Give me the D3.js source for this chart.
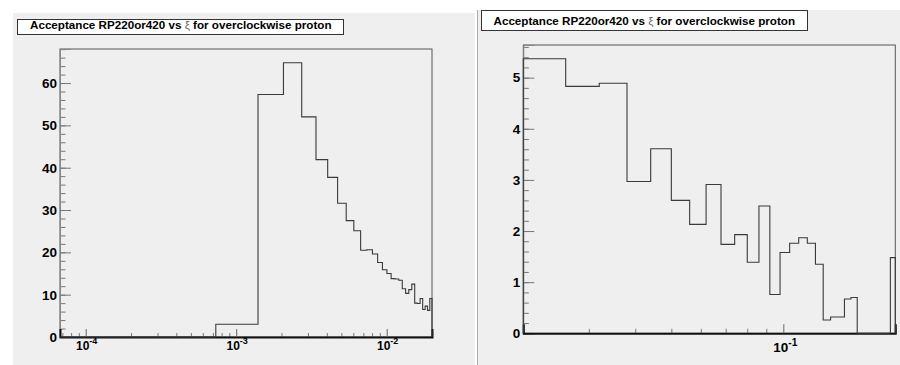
<!DOCTYPE html>
<html>
<head>
<meta charset="utf-8">
<script src="https://cdn.jsdelivr.net/npm/d3@7"></script>
<style>
  body { margin: 0; background: #fff; }
  svg { display: block; }
  text { font-family: "Liberation Sans", Arial, Helvetica, sans-serif; font-weight: bold; fill: #000; }
</style>
</head>
<body>
<svg width="900" height="365"></svg>
<script>
// histogram contents (30 uniform bins each)
const titleText = "Acceptance RP220or420 vs ";
const titleRest = " for overclockwise proton";

const leftRange = [6.75e-5, 0.02];
const leftValues = [0, 3.0, 57.3, 64.8, 52.0, 41.9, 37.7, 31.6, 27.5, 25.1,
                    20.5, 20.6, 19.6, 17.6, 15.9, 15.0, 13.8, 13.7, 13.4, 11.4,
                    10.3, 11.2, 12.5, 8.0, 7.9, 9.1, 6.5, 7.3, 6.3, 9.1];
const leftYTicks = [0, 10, 20, 30, 40, 50, 60];
const leftXMajor = [1e-4, 1e-3, 1e-2];
const leftXLabels = ["-4", "-3", "-2"];

const rightRange = [0.02, 0.2];
const rightValues = [5.37, 4.83, 4.89, 2.97, 3.61, 2.60, 2.13, 2.91, 1.74, 1.93,
                     1.39, 2.49, 0.76, 1.58, 1.76, 1.87, 1.76, 1.35, 0.26, 0.32,
                     0.32, 0.67, 0.70, 0, 0, 0, 0, 0, 0, 1.48];
const rightYTicks = [0, 1, 2, 3, 4, 5];
const rightXMajor = [0.1];
const rightXLabels = ["-1"];

const svg = d3.select("svg");

// pad backgrounds
svg.append("rect").attr("x", 13).attr("y", 13).attr("width", 462).attr("height", 352).attr("fill", "#efefef");
svg.append("rect").attr("x", 478).attr("y", 10).attr("width", 422).attr("height", 355).attr("fill", "#efefef");
svg.append("line").attr("x1", 477.5).attr("x2", 477.5).attr("y1", 10).attr("y2", 365)
    .attr("stroke", "#aaa").attr("stroke-width", 1);

function minorLogTicks(domain) {
    let t = [];
    for (let e = -6; e <= 0; e++) {
        for (let m = 2; m <= 9; m++) {
            let v = m * Math.pow(10, e);
            if (v >= domain[0] * 0.999 && v <= domain[1] * 1.001) t.push(v);
        }
    }
    return t;
}

function drawPanel(opt) {
    const g = svg.append("g").attr("transform", `translate(${opt.left},${opt.top})`);
    const w = opt.width, h = opt.height;

    const x = d3.scaleLog().domain(opt.range).range([0, w]);
    const ymax = d3.max(opt.values) * 1.05;
    const y = d3.scaleLinear().domain([0, ymax]).range([h, 0]);

    // frame
    g.append("rect").attr("width", w).attr("height", h)
        .attr("fill", "none").attr("stroke", "#555").attr("stroke-width", 1);

    // y axis: minor then major
    const yMinor = d3.range(0, ymax, opt.yMinorStep);
    g.append("g").call(d3.axisLeft(y).tickValues(yMinor).tickSize(-opt.yMinorLen).tickFormat(""))
        .call(a => a.select(".domain").remove())
        .selectAll("line").attr("stroke", "#777");
    g.append("g").call(d3.axisLeft(y).tickValues(opt.yTicks).tickSize(-opt.yMajorLen).tickPadding(3)
            .tickFormat(d3.format("d")))
        .call(a => a.select(".domain").attr("stroke", "#888"))
        .call(a => a.selectAll("line").attr("stroke", "#777"))
        .call(a => a.selectAll("text").attr("font-size", opt.yFont).attr("fill", "#000"));

    // x axis: minor and major ticks drawn upward
    g.append("g").attr("transform", `translate(0,${h})`)
        .call(d3.axisBottom(x).tickValues(minorLogTicks(opt.range)).tickSize(-opt.xMinorLen).tickFormat(""))
        .call(a => a.select(".domain").remove())
        .selectAll("line").attr("stroke", "#777");
    g.append("g").attr("transform", `translate(0,${h})`)
        .call(d3.axisBottom(x).tickValues(opt.xMajor).tickSize(-opt.xMajorLen).tickFormat(""))
        .call(a => a.select(".domain").attr("stroke", "#111").attr("stroke-width", 2))
        .selectAll("line").attr("stroke", "#666");

    // x labels 10^n
    const lab = g.append("g").selectAll("text").data(opt.xMajor).enter().append("text")
        .attr("x", d => x(d) + opt.xLabShift)
        .attr("y", h + opt.xLabDy)
        .attr("text-anchor", "middle")
        .attr("font-size", opt.xFont);
    lab.append("tspan").text("10");
    lab.append("tspan").attr("dy", -opt.xFont * 0.42).attr("font-size", opt.xFont * 0.75)
        .text((d, i) => opt.xLabels[i]);

    // histogram outline
    const n = opt.values.length;
    const bw = (opt.range[1] - opt.range[0]) / n;
    let pts = [[opt.range[0], 0]];
    opt.values.forEach((v, i) => pts.push([opt.range[0] + i * bw, v]));
    pts.push([opt.range[1], opt.values[n - 1]]);
    pts.push([opt.range[1], 0]);
    const line = d3.line().x(d => x(d[0])).y(d => y(d[1])).curve(d3.curveStepAfter);
    g.append("path").attr("d", line(pts)).attr("fill", "none")
        .attr("stroke", "#3a3a3a").attr("stroke-width", 1.1);

    // title box
    const tb = svg.append("g");
    tb.append("rect").attr("x", opt.tbox[0]).attr("y", opt.tbox[1])
        .attr("width", opt.tbox[2]).attr("height", opt.tbox[3])
        .attr("fill", "#fff").attr("stroke", "#333").attr("stroke-width", 1);
    const t = tb.append("text").attr("x", opt.tText[0]).attr("y", opt.tText[1]).attr("font-size", 11.65);
    t.append("tspan").text(titleText);
    t.append("tspan").attr("font-weight", "normal").attr("fill", "#666").text("\u03BE");
    t.append("tspan").text(titleRest);
}

drawPanel({
    left: 60, top: 49, width: 372, height: 288,
    range: leftRange, values: leftValues,
    yTicks: leftYTicks, yMinorStep: 2, yMajorLen: 11, yMinorLen: 5.5, yFont: 13.5,
    xMajor: leftXMajor, xLabels: leftXLabels, xMajorLen: 8, xMinorLen: 4,
    xFont: 12, xLabDy: 12.5, xLabShift: 1,
    tbox: [17.5, 19.5, 326, 15], tText: [30, 28.5]
});

drawPanel({
    left: 523.3, top: 45, width: 372, height: 288.3,
    range: rightRange, values: rightValues,
    yTicks: rightYTicks, yMinorStep: 0.2, yMajorLen: 11, yMinorLen: 5.5, yFont: 13.5,
    xMajor: rightXMajor, xLabels: rightXLabels, xMajorLen: 9, xMinorLen: 4.5,
    xFont: 13.5, xLabDy: 18.5, xLabShift: 2,
    tbox: [481.5, 10.5, 326, 20], tText: [493.5, 25]
});
</script>
</body>
</html>
